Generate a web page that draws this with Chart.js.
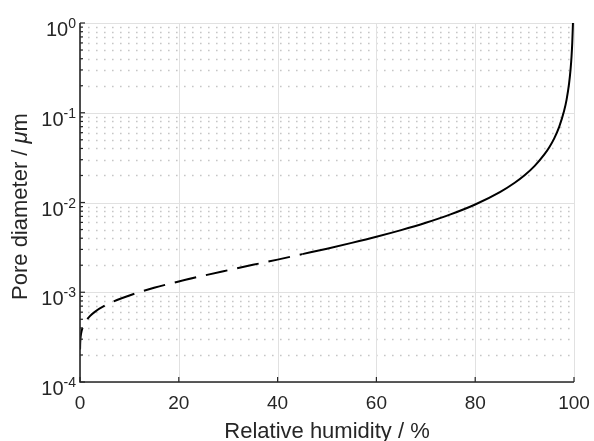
<!DOCTYPE html>
<html>
<head>
<meta charset="utf-8">
<style>
  html, body { margin: 0; padding: 0; background: #ffffff; }
  canvas { display: block; }
</style>
<script src="https://cdn.jsdelivr.net/npm/chart.js@4"></script>
</head>
<body>
<canvas id="poreChart" width="594" height="441"></canvas>
<script>
// relative humidity (%) and pore diameter (um)
const rhDashed = [0.01, 0.03, 0.1, 0.2, 0.5, 1, 2, 3, 5, 7.5, 10, 15, 20, 25, 30, 35, 40, 45];
const dDashed = [0.00023, 0.000261, 0.000307, 0.000341, 0.0004, 0.00046, 0.000542, 0.000605, 0.000708,
  0.000819, 0.000921, 0.00112, 0.00132, 0.00153, 0.00176, 0.00202, 0.00231, 0.00266];

const rhSolid = [45, 50, 55, 60, 65, 70, 75, 80, 85, 88, 90, 92, 94, 95, 96, 97, 98, 98.5, 99, 99.3, 99.5, 99.65, 99.79];
const dSolid = [0.00266, 0.00306, 0.00355, 0.00415, 0.00492, 0.00594, 0.00737, 0.0095, 0.01305, 0.0166,
  0.0201, 0.0254, 0.0343, 0.0413, 0.0519, 0.0696, 0.105, 0.14, 0.211, 0.302, 0.423, 0.605, 1.0];

const xTicks = [0, 20, 40, 60, 80, 100];
const yDecades = [-4, -3, -2, -1, 0];

const FONT = "'Liberation Sans', Arial, Helvetica, sans-serif";
const TEXT = '#262626';

function toPoints(xs, ys) {
  return xs.map((x, i) => ({ x: x, y: ys[i] }));
}

const axesPlugin = {
  id: 'matlabAxes',
  beforeDatasetsDraw(chart) {
    const ctx = chart.ctx;
    const area = chart.chartArea;
    const xs = chart.scales.x;
    const ys = chart.scales.y;
    ctx.save();

    // minor grid (dotted)
    ctx.strokeStyle = '#c6c6c6';
    ctx.lineWidth = 1.4;
    ctx.setLineDash([1.6, 6.4]);
    yDecades.forEach(e => {
      if (e === 0) return;
      for (let m = 2; m <= 9; m++) {
        const py = Math.round(ys.getPixelForValue(m * Math.pow(10, e))) + 0.5;
        ctx.beginPath();
        ctx.moveTo(area.left, py);
        ctx.lineTo(area.right, py);
        ctx.stroke();
      }
    });

    // major grid
    ctx.setLineDash([]);
    ctx.lineWidth = 1;
    ctx.strokeStyle = '#e1e1e1';
    yDecades.forEach(e => {
      const py = Math.round(ys.getPixelForValue(Math.pow(10, e))) + 0.5;
      ctx.beginPath();
      ctx.moveTo(area.left, py);
      ctx.lineTo(area.right, py);
      ctx.stroke();
    });
    xTicks.forEach(v => {
      const px = Math.round(xs.getPixelForValue(v)) + 0.5;
      ctx.beginPath();
      ctx.moveTo(px, area.top);
      ctx.lineTo(px, area.bottom);
      ctx.stroke();
    });
    ctx.restore();
  },
  afterDraw(chart) {
    const ctx = chart.ctx;
    const area = chart.chartArea;
    const xs = chart.scales.x;
    const ys = chart.scales.y;
    ctx.save();

    // axis lines
    ctx.strokeStyle = TEXT;
    ctx.lineWidth = 1.6;
    ctx.beginPath();
    ctx.moveTo(area.left, area.top);
    ctx.lineTo(area.left, area.bottom);
    ctx.lineTo(area.right, area.bottom);
    ctx.stroke();

    // ticks, pointing inward
    ctx.lineWidth = 1.2;
    xTicks.forEach(v => {
      const px = xs.getPixelForValue(v);
      ctx.beginPath();
      ctx.moveTo(px, area.bottom);
      ctx.lineTo(px, area.bottom - 5);
      ctx.stroke();
    });
    yDecades.forEach(e => {
      const py = ys.getPixelForValue(Math.pow(10, e));
      ctx.beginPath();
      ctx.moveTo(area.left, py);
      ctx.lineTo(area.left + 5, py);
      ctx.stroke();
      if (e === 0) return;
      for (let m = 2; m <= 9; m++) {
        const my = ys.getPixelForValue(m * Math.pow(10, e));
        ctx.beginPath();
        ctx.moveTo(area.left, my);
        ctx.lineTo(area.left + 3, my);
        ctx.stroke();
      }
    });

    // y tick labels as 10^n
    ctx.fillStyle = TEXT;
    ctx.textBaseline = 'alphabetic';
    ctx.textAlign = 'right';
    yDecades.forEach(e => {
      const py = ys.getPixelForValue(Math.pow(10, e));
      const rightX = area.left - 4;
      ctx.font = '14px ' + FONT;
      const expText = String(e);
      const expW = ctx.measureText(expText).width;
      ctx.fillText(expText, rightX, py + 5);
      ctx.font = '20px ' + FONT;
      ctx.fillText('10', rightX - expW, py + 13);
    });

    // x axis title
    ctx.textAlign = 'center';
    ctx.font = '22px ' + FONT;
    ctx.fillText('Relative humidity / %', (area.left + area.right) / 2, 438);

    // y axis title with italic mu
    const partA = 'Pore diameter / ';
    const partB = '\u03bc';
    const partC = 'm';
    ctx.font = '22px ' + FONT;
    const wA = ctx.measureText(partA).width;
    const wC = ctx.measureText(partC).width;
    ctx.font = 'italic 22px ' + FONT;
    const wB = ctx.measureText(partB).width;
    const total = wA + wB + wC;
    ctx.translate(27, (area.top + area.bottom) / 2 + 4);
    ctx.rotate(-Math.PI / 2);
    ctx.textAlign = 'left';
    let cx = -total / 2;
    ctx.font = '22px ' + FONT;
    ctx.fillText(partA, cx, 0);
    cx += wA;
    ctx.font = 'italic 22px ' + FONT;
    ctx.fillText(partB, cx, 0);
    cx += wB;
    ctx.font = '22px ' + FONT;
    ctx.fillText(partC, cx, 0);
    ctx.restore();
  }
};

new Chart(document.getElementById('poreChart').getContext('2d'), {
  type: 'line',
  data: {
    datasets: [
      {
        data: toPoints(rhDashed, dDashed),
        borderColor: '#000000',
        borderWidth: 2,
        borderDash: [22, 10],
        pointRadius: 0,
        cubicInterpolationMode: 'monotone',
        fill: false
      },
      {
        data: toPoints(rhSolid, dSolid),
        borderColor: '#000000',
        borderWidth: 2,
        pointRadius: 0,
        cubicInterpolationMode: 'monotone',
        fill: false
      }
    ]
  },
  options: {
    responsive: false,
    animation: false,
    layout: { padding: { top: 23, right: 20, left: 0, bottom: 0 } },
    plugins: {
      legend: { display: false },
      tooltip: { enabled: false }
    },
    scales: {
      x: {
        type: 'linear',
        min: 0,
        max: 100,
        afterFit(scale) {
          scale.height = 59;
          scale.paddingLeft = 0;
          scale.paddingRight = 0;
        },
        afterBuildTicks(scale) { scale.ticks = xTicks.map(v => ({ value: v })); },
        grid: { display: false, drawTicks: false },
        border: { display: false },
        ticks: {
          color: TEXT,
          padding: 10,
          maxRotation: 0,
          font: { family: FONT, size: 19 }
        }
      },
      y: {
        type: 'logarithmic',
        min: 1e-4,
        max: 1,
        afterFit(scale) {
          scale.width = 80;
          scale.paddingTop = 0;
          scale.paddingBottom = 0;
        },
        grid: { display: false, drawTicks: false },
        border: { display: false },
        ticks: { display: false }
      }
    }
  },
  plugins: [axesPlugin]
});
</script>
</body>
</html>
